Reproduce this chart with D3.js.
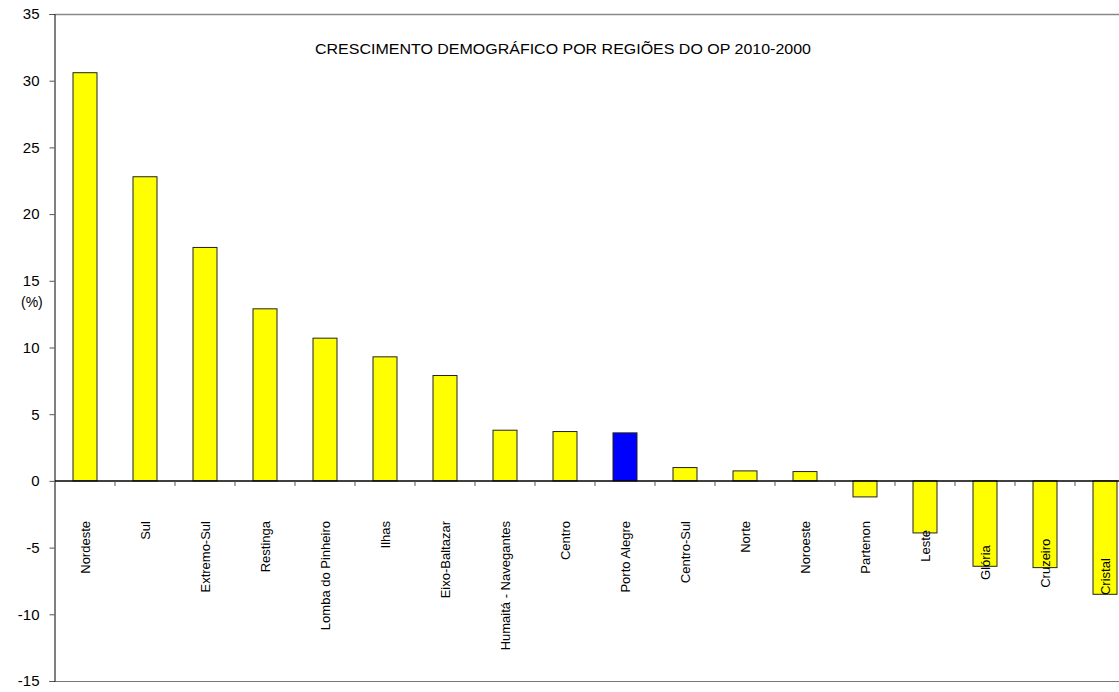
<!DOCTYPE html>
<meta charset="utf-8">
<style>
  body { margin: 0; background: #fff; }
  svg text { font-family: "Liberation Sans", Arial, sans-serif; fill: #000; }
</style>
<svg width="1119" height="692"></svg>
<script src="https://cdnjs.cloudflare.com/ajax/libs/d3/7.8.5/d3.min.js"></script>
<script>
// regions of the OP and their growth (%) 2000-2010
var regioes = ["Nordeste", "Sul", "Extremo-Sul", "Restinga", "Lomba do Pinheiro", "Ilhas",
  "Eixo-Baltazar", "Humaitá - Navegantes", "Centro", "Porto Alegre", "Centro-Sul", "Norte",
  "Noroeste", "Partenon", "Leste", "Glória", "Cruzeiro", "Cristal"];
var crescimento = [30.6, 22.8, 17.5, 12.9, 10.7, 9.3, 7.9, 3.8, 3.7, 3.6, 1.0, 0.75,
  0.7, -1.2, -3.9, -6.4, -6.5, -8.5];
var yTicks = [35, 30, 25, 20, 15, 10, 5, 0, -5, -10, -15];
var destaque = "Porto Alegre";

var svg = d3.select("svg"),
    mLeft = 55, mTop = 14, mBottom = 681,
    bandW = 60,
    mRight = mLeft + bandW * regioes.length;

var x = d3.scaleBand()
    .domain(regioes)
    .range([mLeft, mRight])
    .paddingInner(0.6)
    .paddingOuter(0.3);

var y = d3.scaleLinear()
    .domain([-15, 35])
    .range([mBottom, mTop]);

// plot border (top and bottom are gray)
svg.append("line").attr("x1", mLeft).attr("x2", 1119).attr("y1", mTop + 0.5).attr("y2", mTop + 0.5)
    .attr("stroke", "#888").attr("stroke-width", 1.5);
svg.append("line").attr("x1", mLeft).attr("x2", 1119).attr("y1", mBottom + 0.5).attr("y2", mBottom + 0.5)
    .attr("stroke", "#777").attr("stroke-width", 1);

// y axis
var yAxis = svg.append("g")
    .attr("transform", "translate(" + (mLeft - 0.5) + ",0)")
    .call(d3.axisLeft(y).tickValues(yTicks).tickSize(5).tickPadding(10)
      .tickFormat(function(d) { return String(d); }));
yAxis.select(".domain").attr("stroke", "#000");
yAxis.selectAll(".tick line").attr("stroke", "#555");
yAxis.selectAll("text").style("font-size", "15px").style("font-family", "Liberation Sans, Arial, sans-serif");

svg.append("text")
    .attr("x", 21).attr("y", 307)
    .style("font-size", "14px")
    .text("(%)");

// bars
svg.selectAll(".bar")
    .data(regioes)
    .enter().append("rect")
    .attr("class", "bar")
    .attr("x", function(d) { return x(d); })
    .attr("width", x.bandwidth())
    .attr("y", function(d, i) { return Math.min(y(crescimento[i]), y(0)); })
    .attr("height", function(d, i) { return Math.abs(y(crescimento[i]) - y(0)); })
    .attr("fill", function(d) { return d == destaque ? "#0000FF" : "#FFFF00"; })
    .attr("stroke", "#222")
    .attr("stroke-width", 1);

// zero line + category ticks
svg.append("line").attr("x1", mLeft).attr("x2", 1119).attr("y1", y(0)).attr("y2", y(0))
    .attr("stroke", "#000").attr("stroke-width", 1.5);
svg.selectAll(".xtick")
    .data(d3.range(1, regioes.length))
    .enter().append("line")
    .attr("x1", function(i) { return mLeft + i * bandW; })
    .attr("x2", function(i) { return mLeft + i * bandW; })
    .attr("y1", y(0)).attr("y2", y(0) + 5)
    .attr("stroke", "#555");

// category labels (vertical)
svg.selectAll(".cat")
    .data(regioes)
    .enter().append("text")
    .attr("class", "cat")
    .style("font-size", "13px")
    .attr("text-anchor", function(d, i) { return crescimento[i] < -2 ? "middle" : "end"; })
    .attr("transform", function(d, i) {
      var cx = x(d) + x.bandwidth() / 2 + 5;
      var cy = crescimento[i] < -2 ? (y(0) + y(crescimento[i])) / 2 + 39 : 521;
      return "translate(" + cx + "," + cy + ") rotate(-90)";
    })
    .text(function(d) { return d; });

// title (original is a bit stretched horizontally)
svg.append("text")
    .attr("x", 315).attr("y", 54)
    .style("font-size", "14px")
    .attr("textLength", 496)
    .attr("lengthAdjust", "spacingAndGlyphs")
    .text("CRESCIMENTO DEMOGRÁFICO POR REGIÕES DO OP 2010-2000");
</script>
